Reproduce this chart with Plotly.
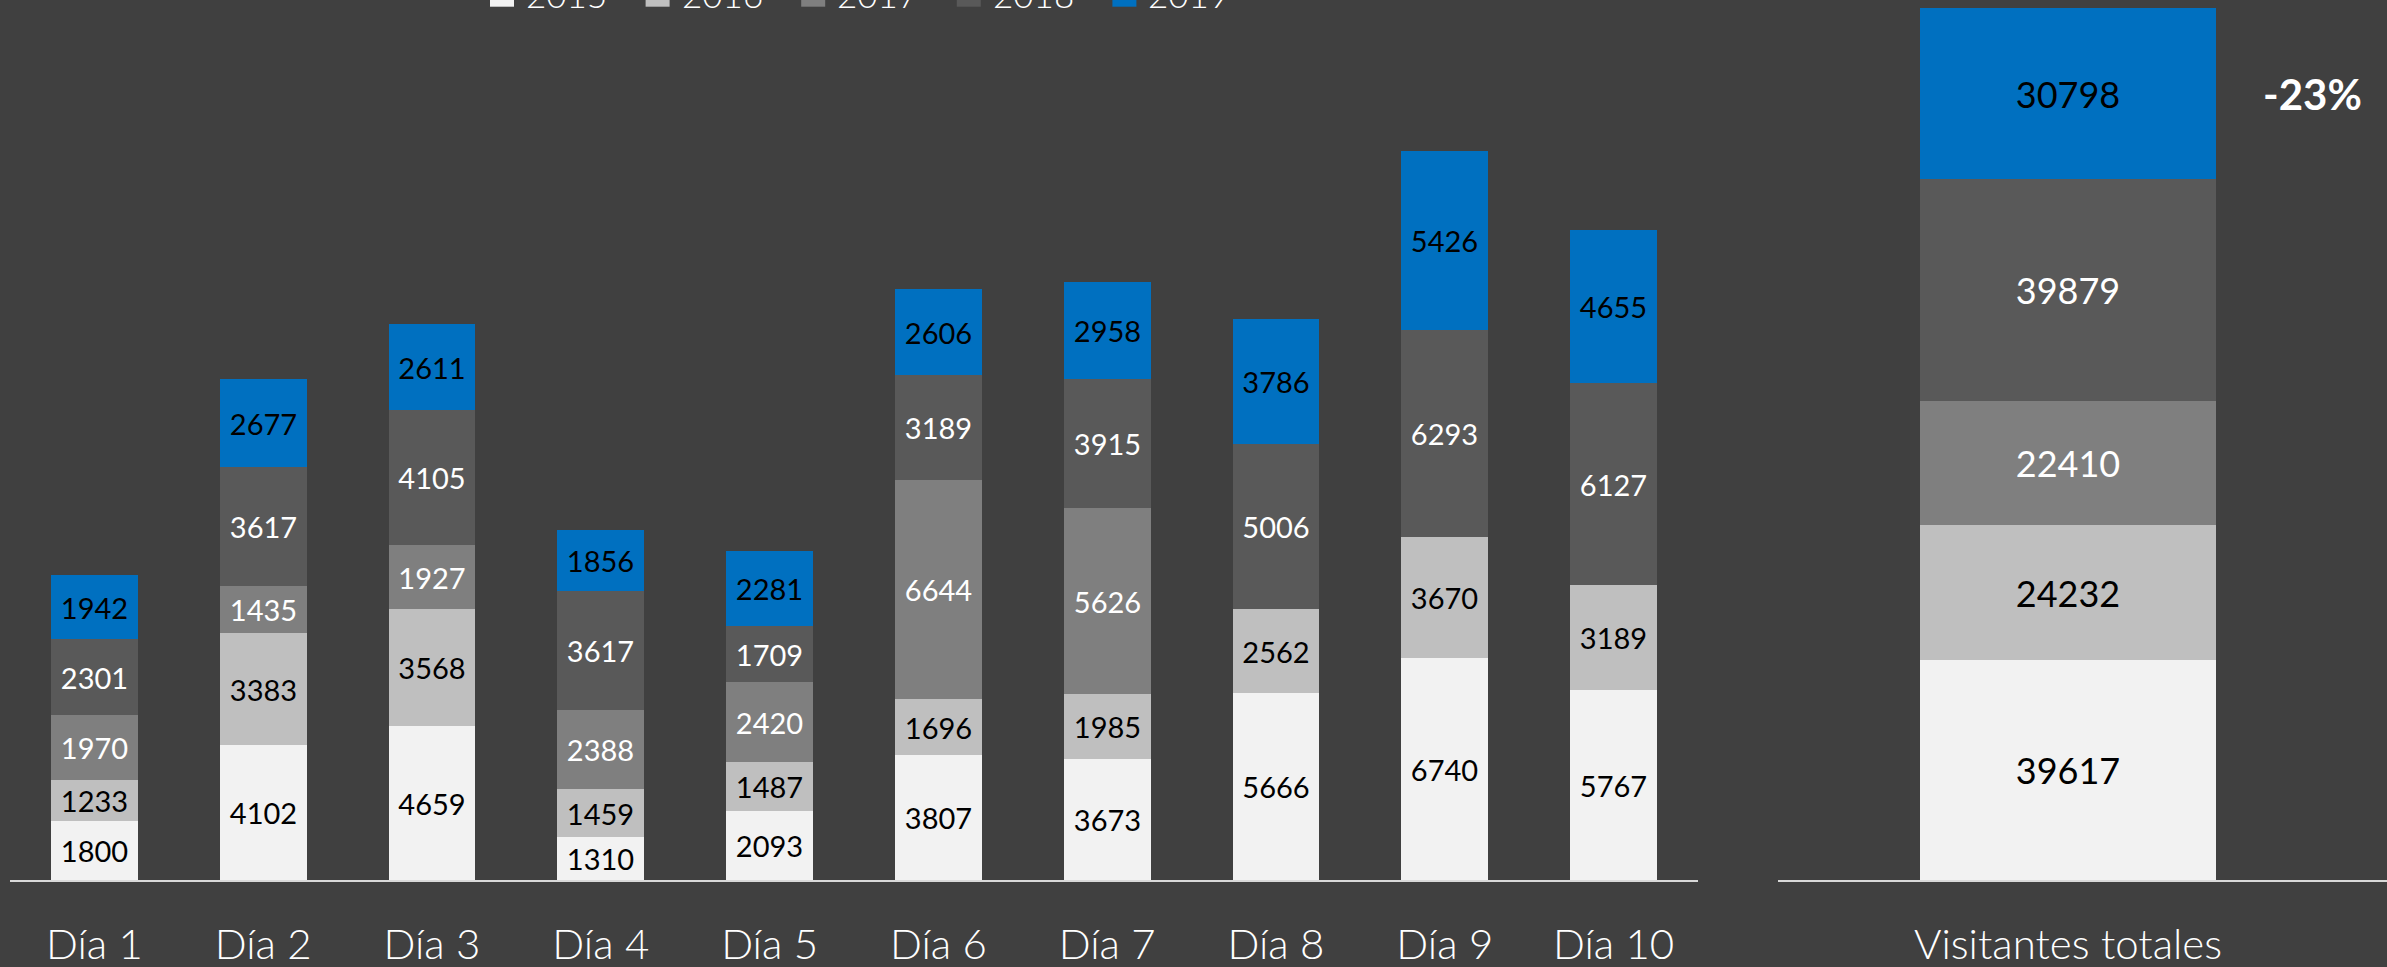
import plotly.graph_objects as go

days = ["Día 1", "Día 2", "Día 3", "Día 4", "Día 5", "Día 6", "Día 7", "Día 8", "Día 9", "Día 10"]
years = ["2015", "2016", "2017", "2018", "2019"]
v2015 = [1800, 4102, 4659, 1310, 2093, 3807, 3673, 5666, 6740, 5767]
v2016 = [1233, 3383, 3568, 1459, 1487, 1696, 1985, 2562, 3670, 3189]
v2017 = [1970, 1435, 1927, 2388, 2420, 6644, 5626, None, None, None]
v2018 = [2301, 3617, 4105, 3617, 1709, 3189, 3915, 5006, 6293, 6127]
v2019 = [1942, 2677, 2611, 1856, 2281, 2606, 2958, 3786, 5426, 4655]
total_label = "Visitantes totales"

series = [v2015, v2016, v2017, v2018, v2019]
colors = ["#f2f2f2", "#bfbfbf", "#7f7f7f", "#595959", "#0070c0"]
text_colors = ["#000000", "#000000", "#ffffff", "#ffffff", "#000000"]

W, H = 2387, 967
BOT = 87
PH = H - BOT  # plot height in px (top margin 0)

def px_x(p):
    return p / W

def px_y(p):
    return 1 - p / PH

fig = go.Figure()
for name, vals, col, tcol in zip(years, series, colors, text_colors):
    fig.add_trace(go.Bar(
        x=days, y=vals, name=name, marker=dict(color=col, line=dict(width=0)),
        width=0.515, text=[("" if v is None else str(v)) for v in vals],
        textposition="inside", insidetextanchor="middle", textangle=0,
        constraintext="none",
        textfont=dict(family="Lato", size=29, color=tcol, weight=400),
        xaxis="x", yaxis="y", showlegend=False, hoverinfo="x+y+name",
    ))
totals = [sum(v for v in s if v is not None) for s in series]
for name, tot, col, tcol in zip(years, totals, colors, text_colors):
    fig.add_trace(go.Bar(
        x=[total_label], y=[tot], name=name, marker=dict(color=col, line=dict(width=0)),
        width=0.51, text=[str(tot)], textposition="inside", insidetextanchor="middle",
        textangle=0, constraintext="none",
        textfont=dict(family="Lato", size=36, color=tcol, weight=400),
        xaxis="x2", yaxis="y2", showlegend=False, hoverinfo="x+y+name",
    ))

pct = round((totals[4] - totals[3]) / totals[3] * 100)

axis_common = dict(
    type="category", showgrid=False, zeroline=False, showline=True,
    linecolor="#d9d9d9", linewidth=2, ticks="",
    tickfont=dict(family="Lato", size=42, color="#ffffff", weight=300),
    ticklabelstandoff=27, fixedrange=True,
)
fig.update_layout(
    width=W, height=H,
    paper_bgcolor="#404040", plot_bgcolor="#404040",
    margin=dict(l=0, r=0, t=0, b=BOT, autoexpand=False),
    barmode="stack", bargap=0,
    xaxis=dict(domain=[px_x(10), px_x(1698)], range=[-0.5, 9.5], anchor="y", **axis_common),
    yaxis=dict(domain=[0, 1], range=[0, PH * 30.35], visible=False, anchor="x"),
    xaxis2=dict(domain=[px_x(1778), 1], range=[-0.5, 0.55], anchor="y2", **axis_common),
    yaxis2=dict(domain=[0, 1], range=[0, PH * 180.0], visible=False, anchor="x2"),
    showlegend=False,
)

# custom legend (top, partly cut off as in the reference)
shapes = []
annotations = []
for i, (name, col) in enumerate(zip(years, colors)):
    x0 = 490 + i * 155.6
    shapes.append(dict(type="rect", xref="paper", yref="paper",
                       x0=px_x(x0), x1=px_x(x0 + 24), y0=px_y(6.7), y1=px_y(-20),
                       fillcolor=col, line=dict(width=0)))
    annotations.append(dict(xref="paper", yref="paper", x=px_x(x0 + 34), y=px_y(17),
                            xanchor="left", yanchor="bottom", text=name, showarrow=False,
                            font=dict(family="Lato", size=35, color="#ffffff", weight=300)))
annotations.append(dict(xref="paper", yref="paper", x=px_x(2312), y=px_y(94),
                        xanchor="center", yanchor="middle", text=f"{pct}%", showarrow=False,
                        font=dict(family="Lato", size=42, color="#ffffff", weight=700)))
fig.update_layout(shapes=shapes, annotations=annotations)

fig.write_html(
    "out.html",
    config={"displayModeBar": False},
    post_script="document.body.style.margin='0';document.body.style.overflow='hidden';",
)
